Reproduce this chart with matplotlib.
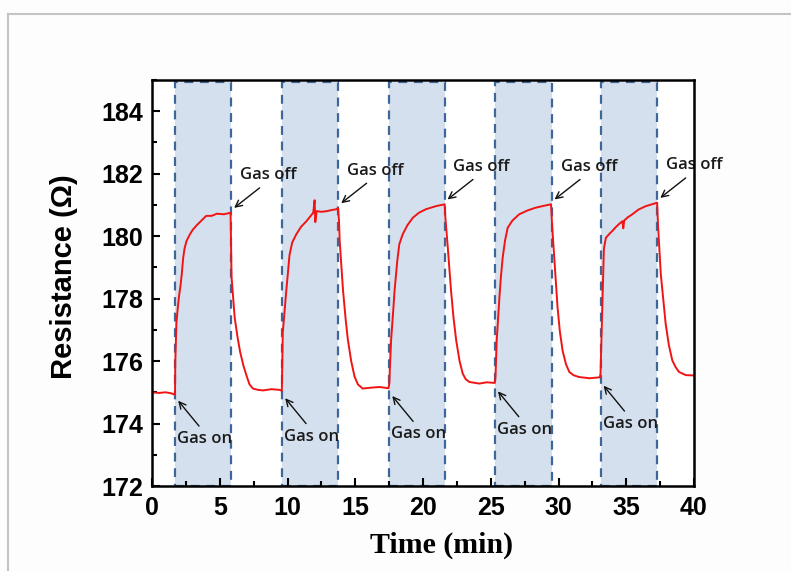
import matplotlib.pyplot as plt
from matplotlib.patches import Rectangle
from matplotlib.lines import Line2D
from matplotlib.ticker import MultipleLocator

# sensor resistance vs time, read in minutes
time_min = [0.0, 0.5, 1.0, 1.4, 1.65,
            1.7, 1.72, 1.8, 1.9, 2.0, 2.1, 2.2, 2.3, 2.4, 2.55, 2.8, 3.0, 3.3, 3.6, 4.0, 4.4, 4.8, 5.3, 5.8,
            5.87, 6.1, 6.3, 6.5, 6.75, 7.0, 7.2, 7.45, 7.8, 8.2, 8.8, 9.4, 9.58,
            9.62, 9.65, 9.8, 9.9, 10.05, 10.15, 10.35, 10.65, 11.0, 11.4, 11.9, 12.0, 12.05, 12.15,
            12.5, 12.9, 13.3, 13.6, 13.73,
            13.8, 13.85, 14.1, 14.3, 14.45, 14.7, 14.95, 15.2, 15.55, 16.2, 16.8, 17.45,
            17.52, 17.55, 17.65, 17.8, 17.9, 18.1, 18.25, 18.5, 18.85, 19.25, 19.7, 20.2, 20.95, 21.6,
            21.65, 21.83, 22.07, 22.25, 22.45, 22.7, 22.93, 23.15, 23.43, 24.16, 24.7, 25.3,
            25.35, 25.44, 25.64, 25.75, 25.88, 26.05, 26.25, 26.6, 27.1, 27.7, 28.3, 28.9, 29.45,
            29.52, 29.69, 29.93, 30.1, 30.3, 30.55, 30.8, 31.1, 31.5, 32.3, 33.05,
            33.1, 33.2, 33.35, 33.5, 33.75, 33.98, 34.25, 34.5, 34.72, 34.78, 34.85, 35.1, 35.45,
            35.9, 36.44, 36.9, 37.28,
            37.35, 37.55, 37.75, 37.91, 38.15, 38.4, 38.65, 38.9, 39.4, 40.0]
resistance = [175.0, 174.98, 175.0, 174.97, 174.93,
              175.0, 176.0, 177.2, 177.7, 178.1, 178.4, 178.8, 179.3, 179.6, 179.85, 180.06, 180.2, 180.35, 180.48,
              180.65, 180.65, 180.72, 180.7, 180.75,
              178.7, 177.4, 176.8, 176.3, 175.85, 175.5, 175.25, 175.12, 175.08, 175.06, 175.1, 175.08, 175.05,
              176.0, 176.9, 177.7, 178.2, 178.9, 179.4, 179.8, 180.06, 180.3, 180.48, 180.75, 181.15, 180.45, 180.8,
              180.78, 180.8, 180.84, 180.86, 180.9,
              180.5, 179.85, 178.25, 177.3, 176.7, 176.0, 175.5, 175.25, 175.12, 175.15, 175.17, 175.13,
              175.3, 175.7, 176.7, 177.6, 178.25, 179.2, 179.74, 180.06, 180.35, 180.59, 180.75, 180.86, 180.96, 181.02,
              180.6, 179.63, 178.25, 177.4, 176.66, 176.0, 175.6, 175.42, 175.33, 175.28, 175.32, 175.3,
              175.5, 176.66, 178.04, 178.7, 179.31, 179.85, 180.27, 180.5, 180.7, 180.82, 180.91, 180.97, 181.02,
              180.4, 179.31, 177.72, 176.95, 176.34, 175.9, 175.65, 175.55, 175.49, 175.45, 175.48,
              175.6, 177.2, 179.6, 179.95, 180.07, 180.17, 180.3, 180.4, 180.48, 180.25, 180.5, 180.6, 180.7,
              180.85, 180.96, 181.02, 181.07,
              180.3, 178.78, 177.9, 177.19, 176.5, 176.02, 175.8, 175.65, 175.55, 175.54]

gas_on = [1.7, 9.6, 17.5, 25.3, 33.1]
gas_off = [5.85, 13.75, 21.6, 29.5, 37.3]
base_at_on = [175.0, 175.08, 175.15, 175.3, 175.48]
peak_at_off = [180.75, 180.9, 181.02, 181.02, 181.07]

fig = plt.figure(figsize=(7.91, 5.71), dpi=100)
fig.patch.set_facecolor('#fdfdfd')
ax = fig.add_axes([152 / 791, 1 - 486 / 571, 542 / 791, 406 / 571])

# grey page border
fig.add_artist(Line2D([8 / 791, 8 / 791], [0, 1 - 14 / 571], color='#c4c4c4', lw=1.5,
                      transform=fig.transFigure))
fig.add_artist(Line2D([8 / 791, 1], [1 - 14 / 571, 1 - 14 / 571], color='#c4c4c4', lw=1.5,
                      transform=fig.transFigure))

for t0, t1 in zip(gas_on, gas_off):
    ax.add_patch(Rectangle((t0, 172), t1 - t0, 12.93, facecolor='#d5e0ee',
                           edgecolor='#3d6699', lw=1.6, ls=(0, (4, 3)), zorder=1))

ax.plot(time_min, resistance, color='#f01414', lw=1.4, zorder=3)

arrow = dict(arrowstyle='->', color='#111111', lw=1.0, mutation_scale=12)
txt_font = dict(fontsize=12, family='Open Sans', fontweight='semibold', color='#1a1a1a',
                va='center', ha='left')

for t, r in zip(gas_off, peak_at_off):
    hx, hy = t + 0.05, r + 0.1
    ax.annotate('', xy=(hx, hy), xytext=(hx + 2.2, hy + 0.75), arrowprops=arrow, zorder=4)
    ax.text(hx + 0.6, hy + 1.1, 'Gas off', zorder=4, **txt_font)

for t, r in zip(gas_on, base_at_on):
    hx, hy = t + 0.1, r - 0.2
    ax.annotate('', xy=(hx, hy), xytext=(hx + 1.8, hy - 0.95), arrowprops=arrow, zorder=4)
    ax.text(hx + 0.05, hy - 1.3, 'Gas on', zorder=4, **txt_font)

ax.set_xlim(0, 40)
ax.set_ylim(172, 185)
ax.xaxis.set_major_locator(MultipleLocator(5))
ax.xaxis.set_minor_locator(MultipleLocator(2.5))
ax.yaxis.set_major_locator(MultipleLocator(2))
ax.yaxis.set_minor_locator(MultipleLocator(1))
ax.set_yticks(range(172, 185, 2))

for s in ax.spines.values():
    s.set_linewidth(1.8)
    s.set_zorder(5)
ax.tick_params(which='both', direction='in', top=False, right=False, width=1.5)
ax.tick_params(which='major', length=5.5)
ax.tick_params(which='minor', length=3.5)
ax.tick_params(axis='x', pad=7.5)
ax.tick_params(axis='y', pad=6.5)
for lab in ax.get_xticklabels() + ax.get_yticklabels():
    lab.set_fontsize(18)
    lab.set_fontweight('bold')
    lab.set_family('Liberation Sans')

fig.text(64 / 791, 1 - 277 / 571, 'Resistance (Ω)', rotation=90, ha='center', va='center',
         fontsize=21, fontweight='bold', family='Liberation Sans')
fig.text(442 / 791, 1 - 545 / 571, 'Time (min)', ha='center', va='center',
         fontsize=21.5, fontweight='bold', family='Liberation Serif')

fig.savefig('out.png', dpi=100, facecolor=fig.get_facecolor())
